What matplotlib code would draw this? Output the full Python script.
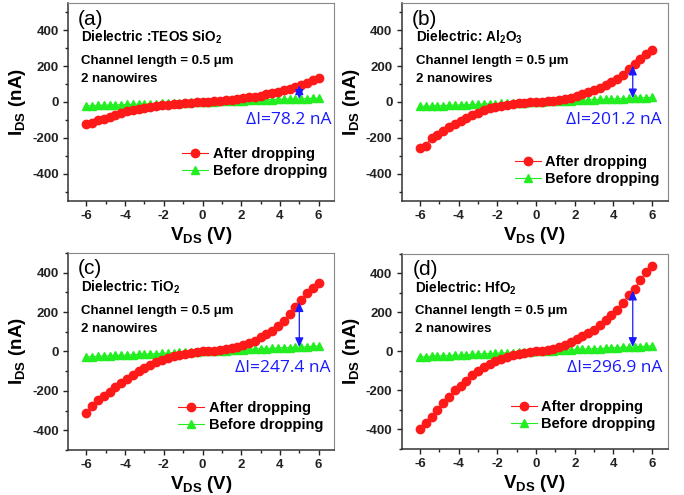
import matplotlib
matplotlib.use("Agg")
import matplotlib.pyplot as plt
import numpy as np
from matplotlib.ticker import MultipleLocator

# ── data (V in volts, I in nA) ───────────────────────────────────────
V = [-6.0, -5.7, -5.4, -5.1, -4.8, -4.5, -4.2, -3.9, -3.6, -3.3,
     -3.0, -2.7, -2.4, -2.1, -1.8, -1.5, -1.2, -0.9, -0.6, -0.3,
     0.0, 0.3, 0.6, 0.9, 1.2, 1.5, 1.8, 2.1, 2.4, 2.7,
     3.0, 3.3, 3.6, 3.9, 4.2, 4.5, 4.8, 5.1, 5.4, 5.7, 6.0]

after_a = [-122, -118, -102, -93, -82, -72, -62, -53, -45, -38,
           -32, -27, -22, -19, -15, -12, -10, -7, -5, -2,
           0, 2, 5, 7, 10, 13, 17, 21, 25, 30,
           36, 42, 49, 57, 65, 74, 85, 96, 108, 120, 132]
before_a = [-21, -20, -19, -18, -17, -16, -15, -14, -13, -12,
            -11, -10, -9, -8, -6, -5, -4, -3, -2, -1,
            0, 1, 2, 3, 4, 5, 6, 8, 9, 10,
            11, 12, 13, 14, 15, 16, 17, 18, 19, 20, 21]

after_b = [-258, -243, -200, -183, -160, -140, -122, -105, -88, -74,
           -60, -47, -36, -27, -20, -15, -11, -7, -4, -2,
           0, 2, 4, 7, 11, 16, 24, 34, 44, 55,
           66, 78, 92, 110, 130, 152, 182, 212, 240, 265, 290]
before_b = [-25, -24, -23, -22, -20, -19, -18, -17, -15, -14,
            -13, -12, -10, -9, -8, -7, -5, -4, -3, -1,
            0, 1, 3, 4, 5, 6, 8, 9, 10, 11,
            13, 14, 15, 16, 18, 19, 20, 21, 23, 24, 26]

after_c = [-310, -278, -245, -225, -205, -180, -158, -138, -118, -100,
           -82, -67, -53, -42, -31, -24, -18, -12, -8, -4,
           0, 2, 5, 8, 12, 18, 25, 33, 42, 55,
           72, 88, 104, 128, 155, 190, 225, 262, 295, 322, 350]
before_c = [-27, -26, -24, -23, -22, -20, -19, -18, -16, -15,
            -14, -12, -11, -10, -8, -7, -5, -4, -3, -1,
            0, 1, 3, 4, 5, 7, 8, 10, 11, 12,
            14, 15, 16, 18, 19, 20, 22, 23, 24, 26, 28]

after_d = [-400, -366, -337, -300, -264, -235, -200, -175, -149, -123,
           -101, -80, -63, -50, -38, -26, -17, -12, -7, -3,
           0, 3, 8, 15, 24, 35, 48, 62, 78, 95,
           112, 135, 160, 185, 215, 250, 290, 322, 368, 405, 440]
before_d = [-28, -27, -25, -24, -22, -21, -20, -18, -17, -15,
            -14, -13, -11, -10, -8, -7, -6, -4, -3, -1,
            0, 1, 3, 4, 6, 7, 8, 10, 11, 13,
            14, 15, 17, 18, 20, 21, 22, 24, 25, 27, 29]

panel_tags = ["(a)", "(b)", "(c)", "(d)"]
dielectrics = ["Dielectric :TEOS SiO$_2$", "Dielectric: Al$_2$O$_3$",
               "Dielectric: TiO$_2$", "Dielectric: HfO$_2$"]
delta_labels = ["ΔI=78.2 nA", "ΔI=201.2 nA", "ΔI=247.4 nA", "ΔI=296.9 nA"]
afters = [after_a, after_b, after_c, after_d]
befores = [before_a, before_b, before_c, before_d]
ylims = [(-550, 550), (-550, 550), (-500, 500), (-500, 500)]
ARROW_V = 5.0

plt.rcParams.update({
    "font.family": "Liberation Sans",
    "font.weight": "bold",
    "mathtext.fontset": "custom",
    "mathtext.rm": "Liberation Sans:bold",
    "mathtext.it": "Liberation Sans:bold",
    "mathtext.bf": "Liberation Sans:bold",
    "axes.unicode_minus": False,
    "axes.linewidth": 1.0,
})

RED = "#ff1a1a"
GREEN = "#22ee22"
BLUE = "#1a1aff"

fig = plt.figure(figsize=(6.84, 4.95), dpi=100)
# per-panel layout: axes box, text x, ΔI x, legend anchor
boxes = [(0.0995, 0.5945, 0.389, 0.399),
         (0.587, 0.5945, 0.389, 0.399),
         (0.0995, 0.0909, 0.389, 0.398),
         (0.587, 0.0930, 0.389, 0.394)]
tag_x = [0.036, 0.04, 0.036, 0.043]
text_x = [0.05, 0.056, 0.05, 0.049]
delta_x = [0.99, 0.978, 0.985, 0.98]
delta_y = [0.408, 0.41, 0.416, 0.415]
legend_xy = [(0.429, 0.195), (0.426, 0.151), (0.413, 0.168), (0.41, 0.172)]

for i in range(4):
    ax = fig.add_axes(boxes[i])
    after = np.array(afters[i], dtype=float)
    before = np.array(befores[i], dtype=float)

    ax.plot(V, after, "-o", color=RED, lw=0.8, ms=6, mec=RED,
            label="After dropping", zorder=3)
    ax.plot(V, before, "-^", color=GREEN, lw=0.8, ms=6, mec=GREEN,
            label="Before dropping", zorder=2)

    y_top = np.interp(ARROW_V, V, after)
    y_bot = np.interp(ARROW_V, V, before)
    ax.annotate("", xy=(ARROW_V, y_top), xytext=(ARROW_V, y_bot),
                arrowprops=dict(arrowstyle="<|-|>,head_length=0.55,head_width=0.25",
                                color=BLUE, lw=0.9, shrinkA=0, shrinkB=0),
                zorder=4)

    ax.set_xlim(-6.95, 6.8)
    ax.set_ylim(*ylims[i])
    ax.xaxis.set_major_locator(MultipleLocator(2))
    ax.xaxis.set_minor_locator(MultipleLocator(1))
    ax.yaxis.set_major_locator(MultipleLocator(200))
    ax.yaxis.set_minor_locator(MultipleLocator(100))
    ax.tick_params(which="both", direction="out", top=False, right=False,
                   labelsize=9.5, width=1.0, colors="#222222")
    ax.tick_params(which="major", length=3.5, pad=3)
    ax.tick_params(which="minor", length=2)
    for lab in ax.get_xticklabels() + ax.get_yticklabels():
        lab.set_fontweight("bold")
    for side in ["left", "bottom"]:
        ax.spines[side].set_color("#333333")
        ax.spines[side].set_linewidth(1.1)
    for side in ["top", "right"]:
        ax.spines[side].set_color("#888888")
        ax.spines[side].set_linewidth(0.8)

    ax.set_xlabel(r"V$_{\mathrm{DS}}$ (V)", fontsize=13.5, fontweight="bold", labelpad=2)
    ax.set_ylabel(r"I$_{\mathrm{DS}}$ (nA)", fontsize=13.5, fontweight="bold", labelpad=3)

    ax.text(tag_x[i], 0.92, panel_tags[i], transform=ax.transAxes, fontsize=15,
            fontweight="normal", va="center", ha="left")
    ax.text(text_x[i], 0.825, dielectrics[i], transform=ax.transAxes, fontsize=9.8,
            va="center", ha="left")
    ax.text(text_x[i], 0.708, "Channel length = 0.5 μm", transform=ax.transAxes,
            fontsize=9.5, va="center", ha="left")
    ax.text(text_x[i], 0.614, "2 nanowires", transform=ax.transAxes, fontsize=9.5,
            va="center", ha="left")
    ax.text(delta_x[i], delta_y[i], delta_labels[i], transform=ax.transAxes,
            fontsize=12.5, fontweight="normal", family=["Open Sans", "DejaVu Sans"],
            color=BLUE, va="center", ha="right")

    ax.legend(loc="center left", bbox_to_anchor=legend_xy[i], frameon=False,
              fontsize=10.5, handlelength=1.8, handletextpad=0.3,
              labelspacing=0.2, borderpad=0, borderaxespad=0)

fig.savefig("out.png", dpi=100, facecolor="white")
